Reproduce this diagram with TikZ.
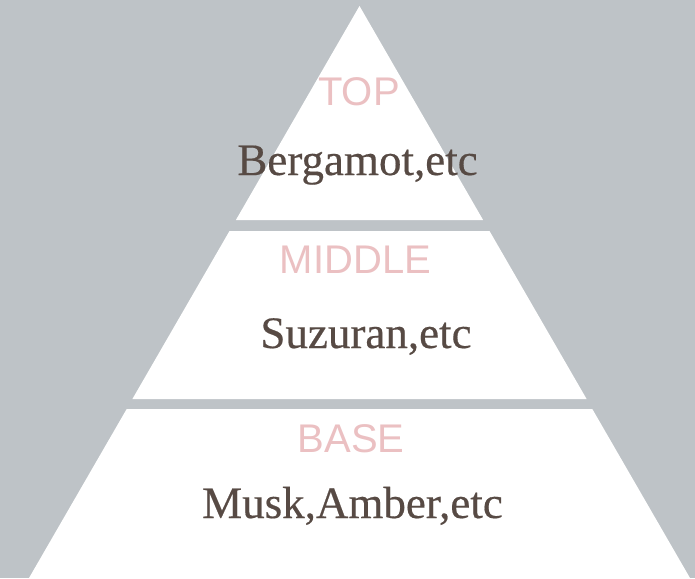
\documentclass[tikz,border=0pt]{standalone}
\usepackage{fontspec}
\setmainfont{Liberation Serif}[FakeBold=0.4]
\newfontfamily\labfont{Liberation Sans}
\definecolor{bgGray}{HTML}{BEC3C7}
\definecolor{tierPink}{HTML}{EBC0C2}
\definecolor{noteBrown}{HTML}{574A44}
\begin{document}
\begin{tikzpicture}[x=1pt,y=-1pt,
  band/.style={fill=white,draw=none},
  tierlabel/.style={anchor=base,text=tierPink,font=\labfont\fontsize{40}{40}\selectfont,inner sep=0pt},
  notelabel/.style={anchor=base,text=noteBrown,font=\fontsize{45}{45}\selectfont,inner sep=0pt}]
\fill[bgGray] (0,0) rectangle (695,578);
\useasboundingbox (0,0) rectangle (695,578);
% bands
\fill[band] (359.5,6) -- (483.1,220) -- (235.9,220) -- cycle;
\fill[band] (229.5,231) -- (489.5,231) -- (586.6,399) -- (132.4,399) -- cycle;
\fill[band] (126.7,409) -- (592.3,409) -- (690,578) -- (29,578) -- cycle;
% labels
\node[tierlabel] (top) at (359,105) {TOP};
\node[notelabel] (topn) at (357.5,175) {Bergamot,etc};
\node[tierlabel] (mid) at (355.5,273) {MIDDLE};
\node[notelabel] (midn) at (366,348) {Suzuran,etc};
\node[tierlabel] (base) at (351,452) {BASE};
\node[notelabel] (basen) at (352.5,518) {Musk,Amber,etc};
\end{tikzpicture}
\end{document}
